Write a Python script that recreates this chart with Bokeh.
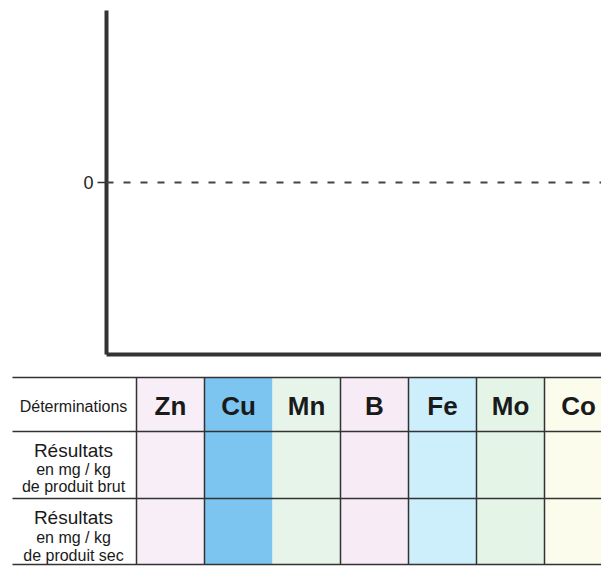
from bokeh.plotting import figure
from bokeh.models import Range1d, Span, FixedTicker
from bokeh.embed import file_html
from bokeh.resources import INLINE
from bokeh.core.properties import value

# ---- data ----
elements = ["Zn", "Cu", "Mn", "B", "Fe", "Mo", "Co"]
element_colors = ["#f8eef8", "#7cc5f0", "#e6f4ea", "#f7ecf6", "#cdeefb", "#e4f5e8", "#fbfcec"]
header_label = "Déterminations"
row_titles = ["Résultats", "Résultats"]
row_units = ["en mg / kg", "en mg / kg"]
row_bases = ["de produit brut", "de produit sec"]
y_ticks = [0]

FONT = "Liberation Sans"
LINE = "#333333"
W = 601

# ---- chart ----
p1 = figure(width=W, height=366, output_backend="svg", toolbar_location=None,
            x_range=Range1d(0, 1), y_range=Range1d(-1, 1),
            min_border_left=106, min_border_right=0, min_border_top=10, min_border_bottom=12)
p1.grid.visible = False
p1.outline_line_color = None
p1.background_fill_color = "white"
p1.border_fill_color = "white"

p1.yaxis.ticker = FixedTicker(ticks=y_ticks)
p1.yaxis.axis_line_width = 4
p1.yaxis.axis_line_color = LINE
p1.yaxis.major_tick_line_color = LINE
p1.yaxis.major_tick_line_width = 1.5
p1.yaxis.major_tick_out = 9
p1.yaxis.major_tick_in = 0
p1.yaxis.minor_tick_line_color = None
p1.yaxis.major_label_standoff = 4
p1.yaxis.major_label_text_font = FONT
p1.yaxis.major_label_text_font_size = "18px"
p1.yaxis.major_label_text_color = "#222222"

p1.xaxis.ticker = FixedTicker(ticks=[])
p1.xaxis.axis_line_width = 4
p1.xaxis.axis_line_color = LINE
p1.xaxis.major_tick_line_color = None
p1.xaxis.minor_tick_line_color = None
p1.xaxis.major_label_text_font_size = "0px"
p1.xaxis.major_label_standoff = 0

p1.add_layout(Span(location=y_ticks[0], dimension="width", line_color="#444444",
                   line_width=2, line_dash="7 10"))

# ---- table ----
col_w = 68.0
x0_px = 136.0
hdr_left_px = 12.0
to_u = lambda px: (px - x0_px) / col_w

row_edges = [11, 65, 132, 198]  # offsets from the table top (pixels)
TH = 206

p2 = figure(width=W, height=TH, output_backend="svg", toolbar_location=None,
            x_range=Range1d(to_u(0), to_u(W)), y_range=Range1d(TH, 0),
            x_axis_type=None, y_axis_type=None, min_border=0)
p2.grid.visible = False
p2.outline_line_color = None
p2.border_fill_color = "white"
p2.background_fill_color = "white"

idx = list(range(len(elements)))
p2.quad(left=idx, right=[i + 1 for i in idx], top=row_edges[0], bottom=row_edges[-1],
        fill_color=element_colors, line_color=None)

# horizontal rules
hl = to_u(hdr_left_px)
p2.segment(x0=[hl] * len(row_edges), x1=[to_u(W) + 1] * len(row_edges),
           y0=row_edges, y1=row_edges, line_color=LINE, line_width=1.5)
# vertical rules
vx = [i for i in idx if i != 2]
p2.segment(x0=vx, x1=vx, y0=[row_edges[0]] * len(vx), y1=[row_edges[-1]] * len(vx),
           line_color=LINE, line_width=1.5)

hdr_x = to_u(73)
p2.text(x=[hdr_x], y=[39.5], text=[header_label], text_font=value(FONT),
        text_font_size="16px", text_align="center", text_baseline="middle", text_color="#1a1a1a")
p2.text(x=[i + 0.5 for i in idx], y=[39.5] * len(idx), text=elements, text_font=value(FONT),
        text_font_size="26px", text_font_style="bold", text_align="center",
        text_baseline="middle", text_color="#1a1a1a")

title_y = [84, 151]
units_y = [103, 171]
base_y = [120, 189]
p2.text(x=[hdr_x] * 2, y=title_y, text=row_titles, text_font=value(FONT),
        text_font_size="19px", text_align="center", text_baseline="middle", text_color="#1a1a1a")
p2.text(x=[hdr_x] * 2, y=units_y, text=row_units, text_font=value(FONT),
        text_font_size="16px", text_align="center", text_baseline="middle", text_color="#1a1a1a")
p2.text(x=[hdr_x] * 2, y=base_y, text=row_bases, text_font=value(FONT),
        text_font_size="16px", text_align="center", text_baseline="middle", text_color="#1a1a1a")

open("out.html", "w").write(file_html([p1, p2], INLINE))
